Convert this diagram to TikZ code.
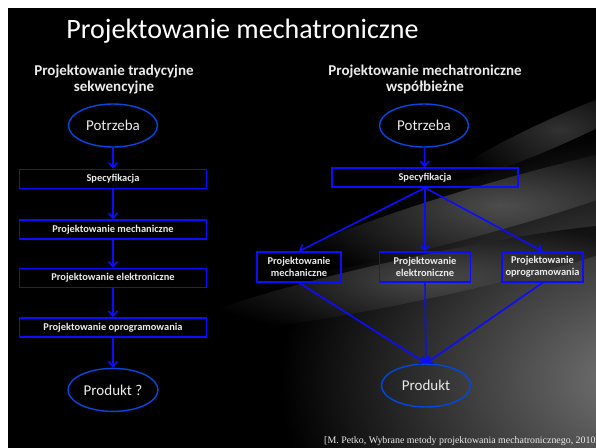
\documentclass[tikz,border=0pt]{standalone}
\usepackage{fontspec}
\setsansfont{Carlito}
\setmainfont{Liberation Serif}
\usetikzlibrary{shapes.geometric, arrows.meta, positioning}
\definecolor{boxblue}{RGB}{12,12,255}
\definecolor{ovalblue}{RGB}{0,72,225}
\definecolor{txtwhite}{RGB}{235,235,235}
\definecolor{glare}{RGB}{118,118,118}
\definecolor{streak}{RGB}{100,100,100}

\begin{document}
\begin{tikzpicture}[x=1pt,y=-1pt,>={Straight Barb[length=5pt,width=9pt]},
  stepbox/.style={draw=boxblue,line width=1.5pt,rectangle,minimum height=19pt,inner sep=1pt,text=txtwhite,font=\sffamily\bfseries\fontsize{10.4}{12}\selectfont,align=center},
  oval/.style={ellipse,draw=ovalblue,line width=1.4pt,minimum width=89pt,minimum height=43pt,inner sep=0pt,text=txtwhite,font=\sffamily\fontsize{15}{17}\selectfont},
  heading/.style={text=txtwhite,font=\sffamily\bfseries\fontsize{15}{16.5}\selectfont,align=center},
  link/.style={->,draw=boxblue,line width=1.6pt}]
  % background of the slide
  \useasboundingbox (0,0) rectangle (596,447);
  \fill[black] (8,8) rectangle (604,455);
  \begin{scope}
    \clip (8,8) rectangle (604,455);
    \shade[inner color=glare,outer color=black] (640,380) ellipse (360 and 250);
    \shade[inner color=streak,outer color=black,opacity=0.7,rotate around={16:(500,205)}] (500,205) ellipse (240 and 24);
    \shade[inner color=streak,outer color=black,opacity=0.6,rotate around={12:(420,278)}] (420,278) ellipse (240 and 22);
    \shade[inner color=streak,outer color=black,opacity=0.5,rotate around={24:(560,130)}] (560,130) ellipse (120 and 14);
  \end{scope}
  \fill[white] (0,0) rectangle (596,8);
  \fill[white] (0,0) rectangle (8,447);
  % titles
  \node[text=white,font=\sffamily\fontsize{28}{32}\selectfont,anchor=base] (title) at (242.5,38.5) {Projektowanie mechatroniczne};
  \node[heading,anchor=north] (lhead) at (114,61) {Projektowanie tradycyjne\\sekwencyjne};
  \node[heading,anchor=north] (rhead) at (425,61) {Projektowanie mechatroniczne\\współbieżne};
  % sequential design
  \node[oval] (lneed) at (113,125.5) {Potrzeba};
  \node[stepbox,minimum width=187pt,below=21pt of lneed] (lspec) {Specyfikacja};
  \node[stepbox,minimum width=187pt,below=30pt of lspec] (lmech) {Projektowanie mechaniczne};
  \node[stepbox,minimum width=187pt,below=28pt of lmech] (lelec) {Projektowanie elektroniczne};
  \node[stepbox,minimum width=187pt,below=29pt of lelec] (lsoft) {Projektowanie oprogramowania};
  \node[oval,minimum width=90pt,below=30pt of lsoft] (lprod) {Produkt ?};
  \draw[link] (lneed) -- (lspec);
  \draw[link] (lspec) -- (lmech);
  \draw[link] (lmech) -- (lelec);
  \draw[link] (lelec) -- (lsoft);
  \draw[link] (lsoft) -- (lprod);
  % concurrent design
  \node[oval] (rneed) at (424,125.5) {Potrzeba};
  \node[stepbox,minimum width=186pt] (rspec) at (425,177.5) {Specyfikacja};
  \node[stepbox,minimum width=84pt,minimum height=30pt] (rmech) at (299,267) {Projektowanie\\mechaniczne};
  \node[stepbox,minimum width=91pt,minimum height=30pt] (relec) at (425,267) {Projektowanie\\elektroniczne};
  \node[stepbox,minimum width=81pt,minimum height=30pt] (rsoft) at (542.5,267) {Projektowanie\\oprogramowania};
  \node[oval] (rprod) at (426,385.5) {Produkt};
  \draw[link] (rneed) -- (rspec);
  \draw[link] (rspec.south) -- (rmech.north);
  \draw[link] (rspec.south) -- (relec.north);
  \draw[link] (rspec.south) -- (rsoft.north);
  \draw[link] (rmech.south) -- (rprod.north);
  \draw[link] (relec.south) -- (rprod.north);
  \draw[link] (rsoft.south) -- (rprod.north);
  % source
  \node[text=txtwhite,font=\rmfamily\fontsize{9.9}{11}\selectfont,anchor=base west,inner sep=0pt] (src) at (324,443.5) {[M. Petko, Wybrane metody projektowania mechatronicznego, 2010};
\end{tikzpicture}
\end{document}
